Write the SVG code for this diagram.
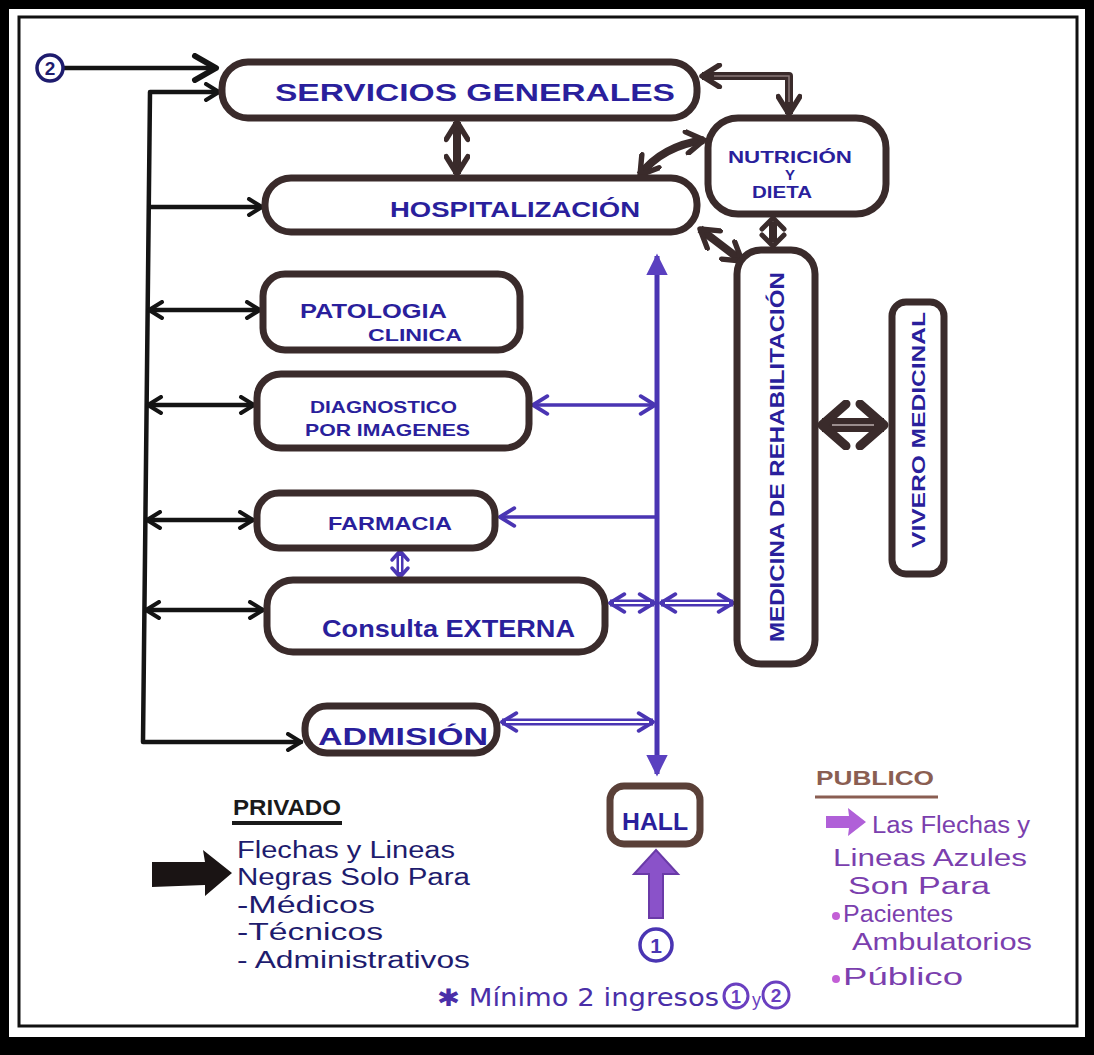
<svg xmlns="http://www.w3.org/2000/svg" width="1094" height="1055" viewBox="0 0 1094 1055">
<style>
.node{fill:#fff;stroke:#3a2b2b;stroke-width:7}
.lbl{font-family:"Liberation Sans",Arial,sans-serif;fill:#2a1f9c;font-weight:bold}
.blk{fill:none;stroke:#141414;stroke-width:4.5;stroke-linecap:round;stroke-linejoin:round}
.blu{fill:none;stroke:#4a35b3;stroke-width:3.5;stroke-linecap:round}
.dbl{fill:none;stroke:#4a35b3;stroke-width:7;stroke-linecap:butt}
.dblin{fill:none;stroke:#fff;stroke-width:2}
.brn{fill:none;stroke:#3a2b2b;stroke-width:8;stroke-linecap:butt;stroke-linejoin:round}
.brnin{fill:none;stroke:#8a7a7a;stroke-width:1.5}
.hd{fill:none;stroke-linecap:round;stroke-linejoin:round}
.leg{font-family:"Liberation Sans",Arial,sans-serif;fill:#1e1c6e;font-size:23px}
.pub{font-family:"Liberation Sans",Arial,sans-serif;fill:#7b3fae;font-size:23px}
</style>
<defs>
<marker id="chB" viewBox="0 0 20 20" markerWidth="20" markerHeight="20" refX="17" refY="10" orient="auto-start-reverse" markerUnits="userSpaceOnUse">
<path d="M4,2 L17,10 L4,18" fill="none" stroke="#141414" stroke-width="4" stroke-linecap="round" stroke-linejoin="round"/>
</marker>
<marker id="chBig" viewBox="0 0 30 30" markerWidth="30" markerHeight="30" refX="26" refY="15" orient="auto-start-reverse" markerUnits="userSpaceOnUse">
<path d="M5,3 L26,15 L5,27" fill="none" stroke="#141414" stroke-width="6" stroke-linecap="round" stroke-linejoin="round"/>
</marker>
<marker id="chU" viewBox="0 0 20 20" markerWidth="22" markerHeight="22" refX="17" refY="10" orient="auto-start-reverse" markerUnits="userSpaceOnUse">
<path d="M4,2 L17,10 L4,18" fill="none" stroke="#4a35b3" stroke-width="3.5" stroke-linecap="round" stroke-linejoin="round"/>
</marker>
<marker id="triU" viewBox="0 0 20 20" markerWidth="24" markerHeight="24" refX="16" refY="10" orient="auto-start-reverse" markerUnits="userSpaceOnUse">
<path d="M0,1 L18,10 L0,19 Z" fill="#5a40c0"/>
</marker>
<marker id="chR" viewBox="0 0 24 24" markerWidth="26" markerHeight="26" refX="20" refY="12" orient="auto-start-reverse" markerUnits="userSpaceOnUse">
<path d="M4,2 L20,12 L4,22" fill="none" stroke="#3a2b2b" stroke-width="5" stroke-linecap="round" stroke-linejoin="round"/>
</marker>
<marker id="chRbig" viewBox="0 0 34 50" markerWidth="34" markerHeight="50" refX="29" refY="25" orient="auto-start-reverse" markerUnits="userSpaceOnUse">
<path d="M5,4 L29,25 L5,46" fill="none" stroke="#3a2b2b" stroke-width="9" stroke-linecap="round" stroke-linejoin="round"/>
</marker>
</defs>

<!-- frame -->
<rect x="0" y="0" width="1094" height="1055" fill="#000"/>
<rect x="9" y="9" width="1076" height="1028" fill="#fff"/>
<rect x="19" y="17" width="1058" height="1009" fill="none" stroke="#111" stroke-width="3"/>

<!-- connectors -->
<g id="connectors">
  <!-- private (black) -->
  <line class="blk" x1="63" y1="68" x2="216" y2="68" marker-end="url(#chBig)"/>
  <path class="blk" d="M219,92 L150,92 L143,742 L301,742" marker-start="url(#chB)" marker-end="url(#chB)"/>
  <line class="blk" x1="150" y1="207" x2="262" y2="207" marker-end="url(#chB)"/>
  <line class="blk" x1="149" y1="310" x2="260" y2="310" marker-start="url(#chB)" marker-end="url(#chB)"/>
  <line class="blk" x1="148" y1="405" x2="254" y2="405" marker-start="url(#chB)" marker-end="url(#chB)"/>
  <line class="blk" x1="147" y1="520" x2="253" y2="520" marker-start="url(#chB)" marker-end="url(#chB)"/>
  <line class="blk" x1="146" y1="610" x2="263" y2="610" marker-start="url(#chB)" marker-end="url(#chB)"/>

  <!-- brown service links -->
  <line class="brn" x1="457" y1="122" x2="457" y2="174" marker-start="url(#chR)" marker-end="url(#chR)"/>
  <path class="brn" d="M702,76 L789,76 L789,114" stroke-width="9" marker-start="url(#chR)" marker-end="url(#chR)"/>
  <path class="brnin" d="M714,76 L789,76 L789,102"/>
  <path class="brn" d="M704,140 Q662,146 640,175" marker-start="url(#chR)" marker-end="url(#chR)"/>
  <line class="brn" x1="773" y1="222" x2="773" y2="242"/>
  <path class="hd" d="M762,229 L773,218 L784,229 M762,235 L773,246 L784,235" stroke="#3a2b2b" stroke-width="5"/>
  <line class="brn" x1="700" y1="229" x2="742" y2="261" marker-start="url(#chR)" marker-end="url(#chR)"/>
  <line x1="822" y1="425" x2="884" y2="425" stroke="#3a2b2b" stroke-width="14" marker-start="url(#chRbig)" marker-end="url(#chRbig)"/>
  <line x1="832" y1="425" x2="874" y2="425" stroke="#9a8d8d" stroke-width="2"/>

  <!-- public (blue) -->
  <line x1="657" y1="256" x2="657" y2="774" stroke="#4a35b3" stroke-width="5" marker-start="url(#triU)" marker-end="url(#triU)"/>
  <line class="blu" x1="533" y1="405" x2="655" y2="405" marker-start="url(#chU)" marker-end="url(#chU)"/>
  <line class="blu" x1="655" y1="517" x2="500" y2="517" marker-end="url(#chU)"/>
  <line class="dbl" x1="400" y1="554" x2="400" y2="574"/>
  <line class="dblin" x1="400" y1="556" x2="400" y2="572"/>
  <path class="hd" d="M392,560 L400,551 L408,560 M392,568 L400,577 L408,568" stroke="#4a35b3" stroke-width="3.5"/>
  <line class="dbl" x1="610" y1="603" x2="654" y2="603" marker-start="url(#chU)" marker-end="url(#chU)"/>
  <line class="dblin" x1="614" y1="603" x2="650" y2="603"/>
  <line class="dbl" x1="661" y1="603" x2="733" y2="603" marker-start="url(#chU)" marker-end="url(#chU)"/>
  <line class="dblin" x1="665" y1="603" x2="729" y2="603"/>
  <line class="dbl" x1="502" y1="722" x2="653" y2="722" marker-start="url(#chU)" marker-end="url(#chU)"/>
  <line class="dblin" x1="506" y1="722" x2="649" y2="722"/>
  <!-- entrance 1 to HALL -->
  <path d="M649,918 L649,874 L634,874 L656,850 L678,874 L663,874 L663,918 Z" fill="#8a52c9" stroke="#6a3aa8" stroke-width="2"/>
</g>

<!-- entrance markers -->
<g id="entry2">
  <circle cx="50" cy="68" r="13" fill="#fff" stroke="#1e1c6e" stroke-width="3.5"/>
  <text x="50" y="75" text-anchor="middle" font-family="Liberation Sans,Arial,sans-serif" font-weight="bold" font-size="19" fill="#1e1c6e">2</text>
</g>
<g id="entry1">
  <circle cx="656" cy="945" r="16" fill="#fff" stroke="#4a35b3" stroke-width="3.5"/>
  <text x="656" y="953" text-anchor="middle" font-family="Liberation Sans,Arial,sans-serif" font-weight="bold" font-size="21" fill="#4a35b3">1</text>
</g>

<!-- nodes -->
<g id="servicios-generales">
  <rect class="node" x="222" y="62" width="475" height="56" rx="26"/>
  <text class="lbl" x="275" y="101" font-size="23" textLength="400" lengthAdjust="spacingAndGlyphs">SERVICIOS   GENERALES</text>
</g>
<g id="hospitalizacion">
  <rect class="node" x="265" y="178" width="432" height="54" rx="26"/>
  <text class="lbl" x="390" y="217" font-size="22" textLength="250" lengthAdjust="spacingAndGlyphs">HOSPITALIZACIÓN</text>
</g>
<g id="nutricion-dieta">
  <rect class="node" x="708" y="118" width="178" height="96" rx="30"/>
  <text class="lbl" x="728" y="163" font-size="16" textLength="124" lengthAdjust="spacingAndGlyphs">NUTRICIÓN</text>
  <text class="lbl" x="790" y="180" font-size="15" text-anchor="middle">Y</text>
  <text class="lbl" x="752" y="198" font-size="16" textLength="60" lengthAdjust="spacingAndGlyphs">DIETA</text>
</g>
<g id="patologia-clinica">
  <rect class="node" x="263" y="274" width="257" height="76" rx="22"/>
  <text class="lbl" x="300" y="318" font-size="20" textLength="147" lengthAdjust="spacingAndGlyphs">PATOLOGIA</text>
  <text class="lbl" x="368" y="341" font-size="16" textLength="94" lengthAdjust="spacingAndGlyphs">CLINICA</text>
</g>
<g id="diagnostico-imagenes">
  <rect class="node" x="257" y="374" width="272" height="74" rx="24"/>
  <text class="lbl" x="310" y="413" font-size="17" textLength="147" lengthAdjust="spacingAndGlyphs">DIAGNOSTICO</text>
  <text class="lbl" x="305" y="436" font-size="17" textLength="165" lengthAdjust="spacingAndGlyphs">POR IMAGENES</text>
</g>
<g id="farmacia">
  <rect class="node" x="257" y="493" width="238" height="55" rx="22"/>
  <text class="lbl" x="328" y="530" font-size="18" textLength="124" lengthAdjust="spacingAndGlyphs">FARMACIA</text>
</g>
<g id="consulta-externa">
  <rect class="node" x="267" y="580" width="338" height="72" rx="26"/>
  <text class="lbl" x="322" y="637" font-size="24" textLength="253" lengthAdjust="spacingAndGlyphs">Consulta EXTERNA</text>
</g>
<g id="admision">
  <rect class="node" x="305" y="706" width="192" height="47" rx="22"/>
  <text class="lbl" x="318" y="745" font-size="23" textLength="170" lengthAdjust="spacingAndGlyphs">ADMISIÓN</text>
</g>
<g id="medicina-rehabilitacion">
  <rect class="node" x="737" y="250" width="78" height="414" rx="24"/>
  <text class="lbl" transform="translate(784,642) rotate(-90)" x="0" y="0" font-size="21" textLength="370" lengthAdjust="spacingAndGlyphs">MEDICINA DE REHABILITACIÓN</text>
</g>
<g id="vivero-medicinal">
  <rect class="node" x="892" y="302" width="52" height="272" rx="14"/>
  <text class="lbl" transform="translate(925,548) rotate(-90)" x="0" y="0" font-size="19" textLength="236" lengthAdjust="spacingAndGlyphs">VIVERO MEDICINAL</text>
</g>
<g id="hall">
  <rect x="610" y="786" width="90" height="58" rx="14" fill="#fff" stroke="#5a4038" stroke-width="7"/>
  <text class="lbl" x="655" y="830" font-size="24" text-anchor="middle" textLength="66" lengthAdjust="spacingAndGlyphs">HALL</text>
</g>

<!-- legend: private -->
<g id="legend-privado">
  <text x="233" y="815" font-family="Liberation Sans,Arial,sans-serif" font-size="22" font-weight="bold" fill="#1a1a1a" textLength="108" lengthAdjust="spacingAndGlyphs">PRIVADO</text>
  <line x1="232" y1="823" x2="342" y2="823" stroke="#1a1a1a" stroke-width="4"/>
  <polygon points="152,862 205,862 203,850 232,873 205,896 205,885 152,887" fill="#1a1414"/>
  <text class="leg" x="237" y="858" textLength="218" lengthAdjust="spacingAndGlyphs">Flechas y Lineas</text>
  <text class="leg" x="237" y="885" textLength="233" lengthAdjust="spacingAndGlyphs">Negras Solo Para</text>
  <text class="leg" x="237" y="913" textLength="138" lengthAdjust="spacingAndGlyphs">-Médicos</text>
  <text class="leg" x="237" y="940" textLength="146" lengthAdjust="spacingAndGlyphs">-Técnicos</text>
  <text class="leg" x="237" y="968" textLength="233" lengthAdjust="spacingAndGlyphs">- Administrativos</text>
</g>

<!-- legend: public -->
<g id="legend-publico">
  <text x="816" y="785" font-family="Liberation Sans,Arial,sans-serif" font-size="21" font-weight="bold" fill="#8a5e52" textLength="118" lengthAdjust="spacingAndGlyphs">PUBLICO</text>
  <line x1="815" y1="797" x2="938" y2="797" stroke="#8a5e52" stroke-width="3"/>
  <polygon points="826,816 849,816 848,808 866,822 848,836 849,828 826,828" fill="#b060d8"/>
  <text class="pub" x="872" y="833" textLength="158" lengthAdjust="spacingAndGlyphs">Las Flechas y</text>
  <text class="pub" x="833" y="866" textLength="194" lengthAdjust="spacingAndGlyphs">Lineas Azules</text>
  <text class="pub" x="848" y="894" textLength="142" lengthAdjust="spacingAndGlyphs">Son Para</text>
  <circle cx="836" cy="916" r="4" fill="#c35fd6"/>
  <text class="pub" x="843" y="922" textLength="110" lengthAdjust="spacingAndGlyphs">Pacientes</text>
  <text class="pub" x="852" y="950" textLength="180" lengthAdjust="spacingAndGlyphs">Ambulatorios</text>
  <circle cx="836" cy="979" r="4" fill="#c35fd6"/>
  <text class="pub" x="843" y="985" textLength="120" lengthAdjust="spacingAndGlyphs">Público</text>
</g>

<!-- footer note -->
<g id="note">
  <text x="437" y="1006" font-family="DejaVu Sans,Liberation Sans,sans-serif" font-size="24" fill="#4a2fa8" textLength="282" lengthAdjust="spacingAndGlyphs">✱ Mínimo 2 ingresos</text>
  <circle cx="736" cy="996" r="12" fill="#fff" stroke="#6a3fc0" stroke-width="3"/>
  <text x="736" y="1003" text-anchor="middle" font-family="Liberation Sans,Arial,sans-serif" font-size="18" font-weight="bold" fill="#6a3fc0">1</text>
  <text x="752" y="1006" font-family="Liberation Sans,Arial,sans-serif" font-size="18" fill="#6a3fc0">y</text>
  <circle cx="776" cy="995" r="13" fill="#fff" stroke="#6a3fc0" stroke-width="3"/>
  <text x="776" y="1002" text-anchor="middle" font-family="Liberation Sans,Arial,sans-serif" font-size="19" font-weight="bold" fill="#6a3fc0">2</text>
</g>
</svg>
